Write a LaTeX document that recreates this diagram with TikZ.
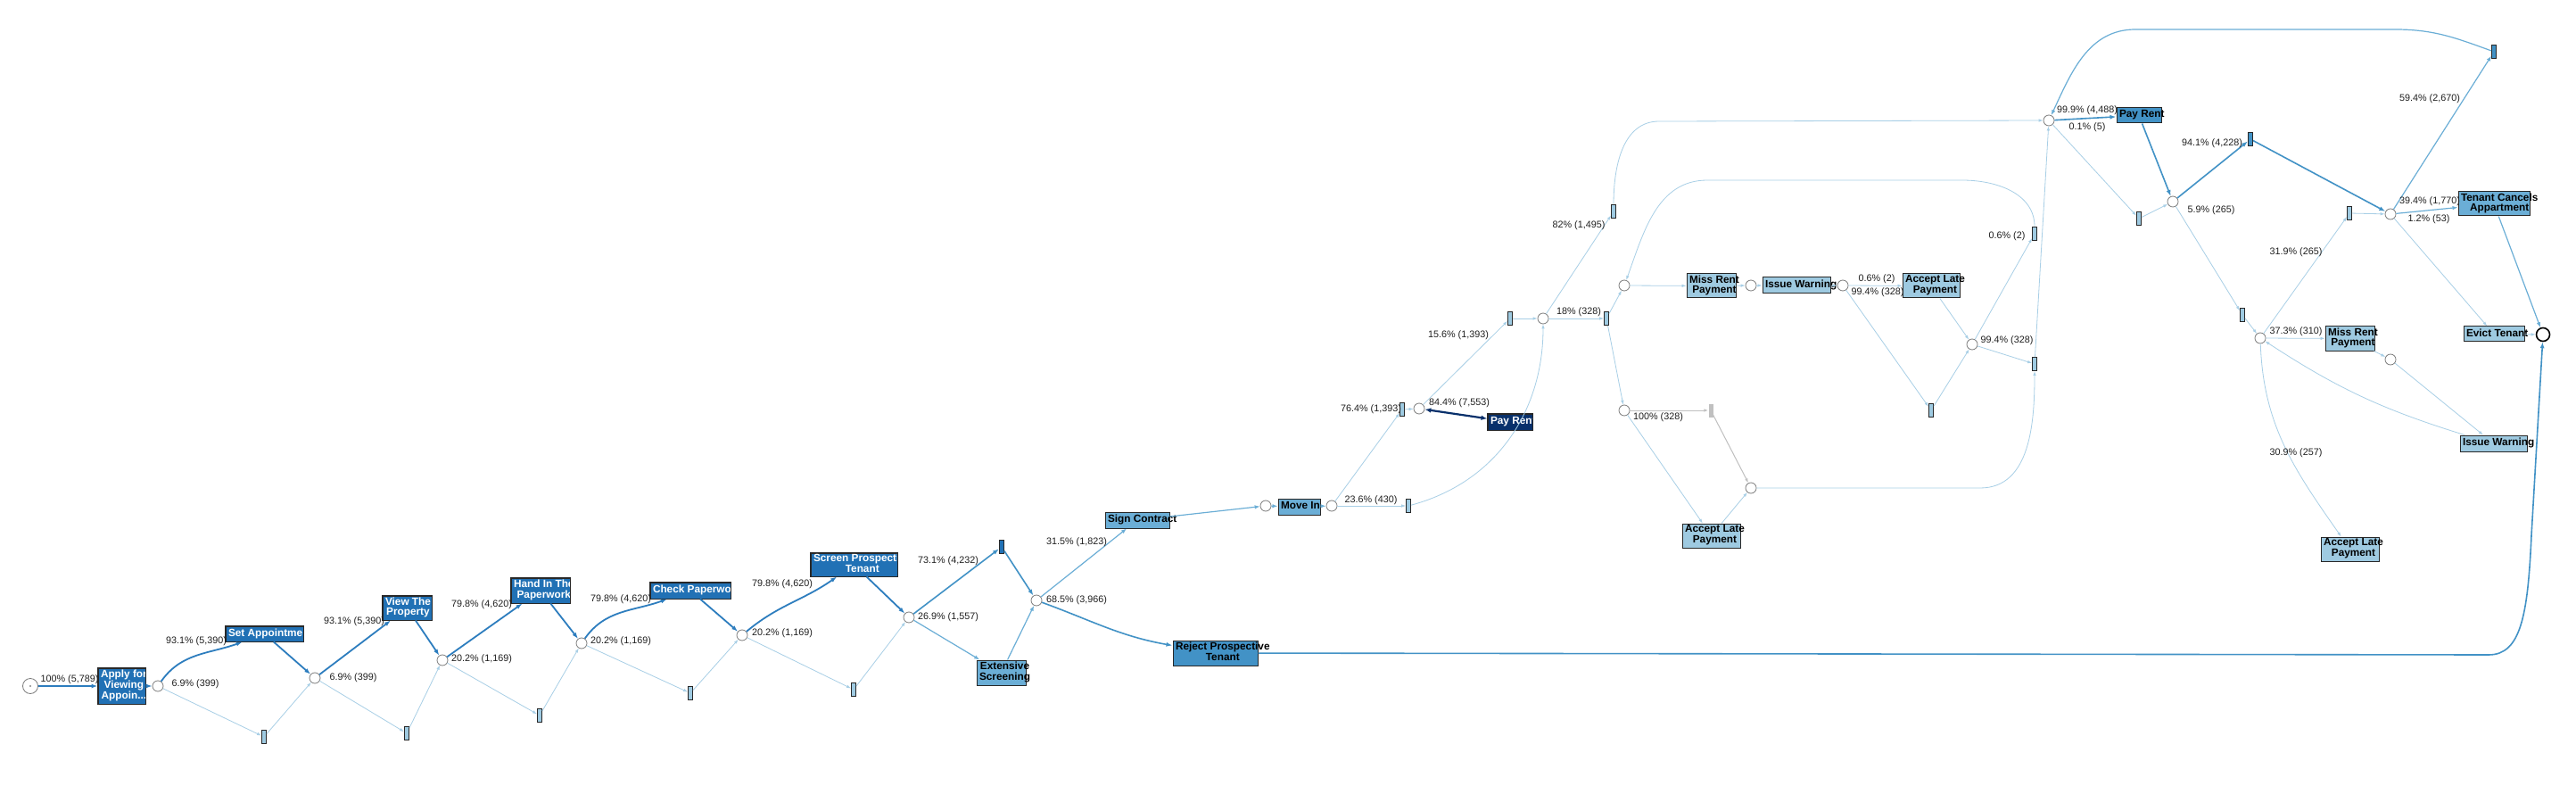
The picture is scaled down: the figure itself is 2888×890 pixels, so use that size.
\documentclass[tikz,border=0pt]{standalone}
\usepackage{fontspec}
\setmainfont{Liberation Sans}
\usetikzlibrary{arrows.meta,calc}
\definecolor{cdark}{RGB}{33,113,181}
\definecolor{cmed}{RGB}{66,146,198}
\definecolor{clm}{RGB}{107,174,214}
\definecolor{clight}{RGB}{158,202,225}
\definecolor{cnavy}{RGB}{8,48,107}
\definecolor{cedgeA}{RGB}{45,125,190}
\definecolor{cedgeL}{RGB}{168,207,230}
\definecolor{cgray}{RGB}{192,192,192}
\definecolor{cbord}{RGB}{40,40,40}
\definecolor{cplace}{RGB}{125,125,125}
\newcommand{\bxt}[2]{\makebox[#1pt][l]{\hspace{3pt}\begin{tabular}{@{}c@{}}#2\end{tabular}}}
\tikzset{
  box/.style={draw=cbord, line width=1pt, inner sep=0pt, font=\bfseries\fontsize{11.8}{11.8}\selectfont},
  dbox/.style={box, fill=cdark, text=white},
  nbox/.style={box, fill=cnavy, text=white},
  mbox/.style={box, fill=cmed},
  lmbox/.style={box, fill=clm},
  lbox/.style={box, fill=clight},
  pl/.style={circle, draw=cplace, fill=white, line width=0.8pt, minimum size=12pt, inner sep=0pt},
  tau/.style={draw=cbord, line width=0.9pt, fill=clight, minimum width=5pt, minimum height=15pt, inner sep=0pt},
  taug/.style={fill=cgray, minimum width=5pt, minimum height=15pt, inner sep=0pt},
  lab/.style={font=\fontsize{10.8}{12}\selectfont, text=black!88, inner sep=0pt},
  eA/.style={draw=cedgeA, line width=1.8pt, -{Latex[length=7pt,width=5pt]}},
  eM/.style={draw=cmed, line width=1.6pt, -{Latex[length=7pt,width=5pt]}},
  eLM/.style={draw=clm, line width=1.2pt, -{Latex[length=6pt,width=4.5pt]}},
  eL/.style={draw=cedgeL, line width=0.8pt, -{Latex[length=5pt,width=3.5pt]}},
  eG/.style={draw=cgray, line width=1pt, -{Latex[length=5pt,width=3.5pt]}},
  eN/.style={draw=cnavy, line width=2.2pt, {Latex[length=7pt,width=5.5pt]}-{Latex[length=7pt,width=5.5pt]}},
}
\begin{document}
\begin{tikzpicture}[x=1pt,y=-1pt]
\path[use as bounding box, fill=white] (0,0) rectangle (2888,890);

% ---------- activity boxes ----------
\node[dbox, minimum width=53pt, minimum height=40pt] (apply) at (136.5,769) {\bxt{53}{Apply for\\Viewing\\Appoin...}};
\node[dbox, minimum width=87pt, minimum height=17pt] (setapp) at (296.5,710.5) {\bxt{87}{Set Appointment}};
\node[dbox, minimum width=55pt, minimum height=27pt] (view) at (456.5,681.5) {\bxt{55}{View The\\Property}};
\node[dbox, minimum width=66pt, minimum height=28pt] (hand) at (606,662) {\bxt{66}{Hand In The\\Paperwork}};
\node[dbox, minimum width=90pt, minimum height=18pt] (check) at (774,662) {\bxt{90}{Check Paperwork}};
\node[dbox, minimum width=97pt, minimum height=26pt] (screen) at (957.5,633) {\bxt{97}{Screen Prospective\\Tenant}};
\node[lmbox, minimum width=55pt, minimum height=28pt] (ext) at (1122.5,754) {\bxt{55}{Extensive\\Screening}};
\node[lmbox, minimum width=72pt, minimum height=18pt] (sign) at (1275,583) {\bxt{72}{Sign Contract}};
\node[mbox, minimum width=95pt, minimum height=28pt] (reject) at (1362.5,732) {\bxt{95}{Reject Prospective\\Tenant}};
\node[lmbox, minimum width=47pt, minimum height=18pt] (move) at (1456.5,568) {\bxt{47}{Move In}};
\node[nbox, minimum width=50pt, minimum height=18pt] (payn) at (1693,473) {\bxt{50}{Pay Rent}};
\node[lbox, minimum width=55pt, minimum height=27pt] (missA) at (1918.5,320.5) {\bxt{55}{Miss Rent\\Payment}};
\node[lbox, minimum width=76pt, minimum height=18pt] (issueA) at (2014,320) {\bxt{76}{Issue Warning}};
\node[lbox, minimum width=64pt, minimum height=27pt] (accA) at (2165,320.5) {\bxt{64}{Accept Late\\Payment}};
\node[lbox, minimum width=65pt, minimum height=27pt] (accB) at (1918.5,600.5) {\bxt{65}{Accept Late\\Payment}};
\node[mbox, minimum width=50pt, minimum height=17pt] (payt) at (2398,129.5) {\bxt{50}{Pay Rent}};
\node[lmbox, minimum width=80pt, minimum height=27pt] (tenant) at (2796,228.5) {\bxt{80}{Tenant Cancels\\Appartment}};
\node[lbox, minimum width=68pt, minimum height=17pt] (evict) at (2796,374.5) {\bxt{68}{Evict Tenant}};
\node[lbox, minimum width=55pt, minimum height=27pt] (missB) at (2634.5,379.5) {\bxt{55}{Miss Rent\\Payment}};
\node[lbox, minimum width=75pt, minimum height=18pt] (issueB) at (2795.5,497) {\bxt{75}{Issue Warning}};
\node[lbox, minimum width=65pt, minimum height=27pt] (accC) at (2634.5,615.5) {\bxt{65}{Accept Late\\Payment}};
\foreach \n in {apply,setapp,view,hand,check,screen,payn}
  \draw[draw=cbord, line width=1pt] (\n.south west) rectangle (\n.north east);

% ---------- start / end ----------
\node[circle, draw=cplace, fill=white, line width=0.8pt, minimum size=17pt, inner sep=0pt] (start) at (34,769) {};
\fill[black!70] (start.center) circle (0.9);
\node[circle, draw=black, fill=white, line width=1.6pt, minimum size=15pt, inner sep=0pt] (endn) at (2851,375) {};

% ---------- places ----------
\node[pl] (p1) at (177,769) {};
\node[pl] (p2) at (353,760) {};
\node[pl] (p3) at (496,740) {};
\node[pl] (p4) at (652,721) {};
\node[pl] (p5) at (832,712) {};
\node[pl] (p6) at (1019,692) {};
\node[pl] (p7) at (1162,673) {};
\node[pl] (p8) at (1419,567) {};
\node[pl] (p9) at (1493,567) {};
\node[pl] (p10) at (1591,458) {};
\node[pl] (p11) at (1730,357) {};
\node[pl] (p12) at (1821,320) {};
\node[pl] (p13) at (1963,320) {};
\node[pl] (p14) at (1821,460) {};
\node[pl] (p15) at (1963,547) {};
\node[pl] (p16) at (2297,135) {};
\node[pl] (p17) at (2066,320) {};
\node[pl] (p18) at (2211,386) {};
\node[pl] (p19) at (2436,226) {};
\node[pl] (p20) at (2680,240) {};
\node[pl] (p21) at (2534,379) {};
\node[pl] (p22) at (2680,403) {};

% ---------- silent transitions ----------
\node[tau] (t1) at (296,826) {};
\node[tau] (t2) at (456,822) {};
\node[tau] (t3) at (605,802) {};
\node[tau] (t4) at (774,777) {};
\node[tau] (t5) at (957,773) {};
\node[tau, fill=cdark] (t6) at (1123,613) {};
\node[tau] (t7) at (1579,567) {};
\node[tau] (t8) at (1572,459) {};
\node[tau] (t9) at (1693,357) {};
\node[tau] (t10) at (1801,357) {};
\node[taug] (t11) at (1918,460) {};
\node[tau] (t12) at (1809,237) {};
\node[tau] (t13) at (2165,460) {};
\node[tau] (t14) at (2281,262) {};
\node[tau] (t15) at (2281,408) {};
\node[tau] (t16) at (2398,245) {};
\node[tau, fill=cmed] (t17) at (2796,58) {};
\node[tau, fill=cmed] (t18) at (2523,156) {};
\node[tau] (t19) at (2634,239) {};
\node[tau] (t20) at (2514,353) {};

% ---------- connectors ----------
\draw[eA] (start) -- (apply);
\draw[eA] (apply) -- (p1);
\draw[eA] (p1) to[out=55,in=200] (setapp);
\draw[eA] (setapp) -- (p2);
\draw[eA] (p2) -- (view);
\draw[eA] (view) -- (p3);
\draw[eA] (p3) -- (hand);
\draw[eA] (hand) -- (p4);
\draw[eA] (p4) to[out=55,in=200] (check);
\draw[eA] (check) -- (p5);
\draw[eA] (p5) to[out=40,in=215] (screen);
\draw[eA] (screen) -- (p6);
\draw[eL] (p1) -- (t1);
\draw[eL] (t1) -- (p2);
\draw[eL] (p2) -- (t2);
\draw[eL] (t2) -- (p3);
\draw[eL] (p3) -- (t3);
\draw[eL] (t3) -- (p4);
\draw[eL] (p4) -- (t4);
\draw[eL] (t4) -- (p5);
\draw[eL] (p5) -- (t5);
\draw[eL] (t5) -- (p6);
\draw[eM] (p6) -- (t6);
\draw[eM] (t6) -- (p7);
\draw[eLM] (p6) -- (ext);
\draw[eLM] (ext) -- (p7);
\draw[eLM] (p7) -- (sign);
\draw[eM] (p7) to[out=-20,in=170] (reject);
\draw[eLM] (sign) -- (p8);
\draw[eLM] (p8) -- (move);
\draw[eLM] (move) -- (p9);
\draw[eL] (p9) -- (t7);
\draw[eL] (p9) -- (t8);
\draw[eL] (t8) -- (p10);
\draw[eN] (p10) -- (payn);
\draw[eL] (p10) -- (t9);
\draw[eL] (t9) -- (p11);
\draw[eL] (t7) to[out=15,in=-90] (p11);
\draw[eL] (p11) -- (t10);
\draw[eL] (p11) -- (t12);
\draw[eL] (t12.north) to[out=90,in=180] (1860,136) -- (p16);
\draw[eL] (t10) -- (p12);
\draw[eL] (t10) -- (p14);
\draw[eL] (p12) -- (missA);
\draw[eL] (missA) -- (p13);
\draw[eL] (p13) -- (issueA);
\draw[eL] (issueA) -- (p17);
\draw[eL] (p17) -- (accA);
\draw[eL] (p17) -- (t13);
\draw[eL] (t13) -- (p18);
\draw[eL] (accA) -- (p18);
\draw[eL] (p18) -- (t14);
\draw[eL] (p18) -- (t15);
\draw[eL] (t14.north) to[out=90,in=0] (2200,202) -- (1914,202) to[out=180,in=70] (p12);
\draw[eG] (p14) -- (t11);
\draw[eG] (t11) -- (p15);
\draw[eL] (p14) -- (accB);
\draw[eL] (accB) -- (p15);
\draw[eL] (p15) -- (2220,547) to[out=0,in=-90] (t15.south);
\draw[eL] (t15) -- (p16);
\draw[eM] (p16) -- (payt);
\draw[eL] (p16) -- (t16);
\draw[eL] (t16) -- (p19);
\draw[eM] (payt) -- (p19);
\draw[eM] (p19) -- (t18);
\draw[eM] (t18) -- (p20);
\draw[eL] (p19) -- (t20);
\draw[eL] (t20) -- (p21);
\draw[eL] (p21) -- (t19);
\draw[eL] (t19) -- (p20);
\draw[eLM] (p20) -- (t17);
\draw[eLM] (t17) to[out=160,in=0] (2685,33) -- (2394,33) to[out=180,in=65] (p16);
\draw[eLM] (p20) -- (tenant);
\draw[eL] (p20) -- (evict);
\draw[eLM] (tenant) -- (endn);
\draw[eL] (evict) -- (endn);
\draw[eL] (p21) -- (missB);
\draw[eL] (missB) -- (p22);
\draw[eL] (p22) -- (issueB);
\draw[eL] (issueB) to[bend left=8] (p21);
\draw[eL] (p21) to[out=-88,in=125] (accC);
\draw[eM] (reject) -- (2790,734) .. controls (2826,734) and (2834,690) .. (2838,600) -- (endn);

% ---------- labels ----------
\node[lab] (l1) at (78,762) {100\% (5,789)};
\node[lab] (l2) at (220,719) {93.1\% (5,390)};
\node[lab] (l3) at (219,767) {6.9\% (399)};
\node[lab] (l4) at (396,760) {6.9\% (399)};
\node[lab] (l5) at (397,697) {93.1\% (5,390)};
\node[lab] (l6) at (540,739) {20.2\% (1,169)};
\node[lab] (l7) at (540,678) {79.8\% (4,620)};
\node[lab] (l8) at (696,719) {20.2\% (1,169)};
\node[lab] (l9) at (696,672) {79.8\% (4,620)};
\node[lab] (l10) at (877,710) {20.2\% (1,169)};
\node[lab] (l11) at (877,655) {79.8\% (4,620)};
\node[lab] (l12) at (1063,692) {26.9\% (1,557)};
\node[lab] (l13) at (1063,629) {73.1\% (4,232)};
\node[lab] (l14) at (1207,673) {68.5\% (3,966)};
\node[lab] (l15) at (1207,608) {31.5\% (1,823)};
\node[lab] (l16) at (1537,561) {23.6\% (430)};
\node[lab] (l17) at (1537,459) {76.4\% (1,393)};
\node[lab] (l18) at (1636,452) {84.4\% (7,553)};
\node[lab] (l19) at (1635,376) {15.6\% (1,393)};
\node[lab] (l20) at (1770,350) {18\% (328)};
\node[lab] (l21) at (1770,253) {82\% (1,495)};
\node[lab] (l22) at (1859,468) {100\% (328)};
\node[lab] (l23) at (2104,313) {0.6\% (2)};
\node[lab] (l24) at (2105,328) {99.4\% (328)};
\node[lab] (l25) at (2250,382) {99.4\% (328)};
\node[lab] (l26) at (2250,265) {0.6\% (2)};
\node[lab] (l27) at (2340,124) {99.9\% (4,488)};
\node[lab] (l28) at (2340,143) {0.1\% (5)};
\node[lab] (l29) at (2480,161) {94.1\% (4,228)};
\node[lab] (l30) at (2479,236) {5.9\% (265)};
\node[lab] (l31) at (2724,111) {59.4\% (2,670)};
\node[lab] (l32) at (2724,226) {39.4\% (1,770)};
\node[lab] (l33) at (2723,246) {1.2\% (53)};
\node[lab] (l34) at (2574,283) {31.9\% (265)};
\node[lab] (l35) at (2574,372) {37.3\% (310)};
\node[lab] (l36) at (2574,508) {30.9\% (257)};
\end{tikzpicture}
\end{document}
